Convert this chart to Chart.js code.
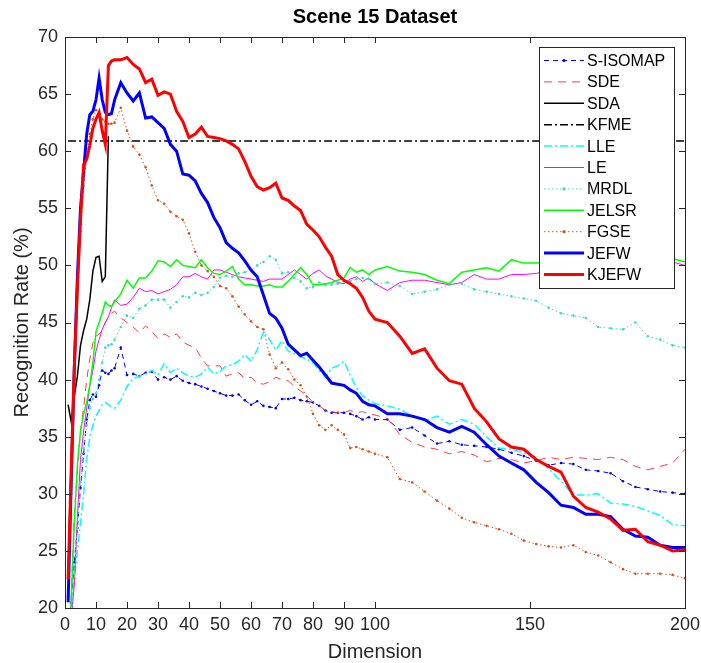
<!DOCTYPE html>
<html>
<head>
<meta charset="utf-8">
<script src="https://cdn.jsdelivr.net/npm/chart.js@4.4.0/dist/chart.umd.min.js"></script>
<style>
html,body{margin:0;padding:0;background:#fff;}
canvas{display:block;}
</style>
</head>
<body>
<canvas id="chart" width="701" height="663"></canvas>
<script>
// sampled dimensions (x values)
var dims = [1,2,3,4,5,6,7,8,9,10,11,12,13,14,15,16,
  18,20,22,24,26,28,30,32,34,36,38,40,42,44,46,48,50,52,54,56,58,60,62,64,66,68,70,72,74,76,78,80,82,84,86,88,90,92,94,96,98,100,
  104,108,112,116,120,124,128,132,136,140,144,148,152,156,160,164,168,172,176,180,184,188,192,196,200];
var sdaDims = [1,2,3,4,5,6,7,8,9,10,11,12,13,14];
var xTicks = [0,10,20,30,40,50,60,70,80,90,100,150,200];

var sIsomap = [17,20.5,24,27,30.5,33.5,36.5,38.2,38.7,38.5,39.5,40.8,40.6,40.5,40.8,41.0,
  42.8,40.4,40.5,40.3,40.6,40.7,40.0,40.2,40.0,40.3,39.9,39.7,39.6,39.4,39.2,39.0,38.8,38.6,38.6,38.7,38.2,37.8,38.1,37.7,37.6,37.5,38.3,38.3,38.4,38.2,38.1,38.0,37.7,37.3,37.1,37.1,37.1,37.0,36.8,36.5,36.7,36.5,
  36.5,35.6,35.8,35.1,34.4,34.6,34.3,34.2,34.1,33.9,33.6,33.3,32.9,32.5,32.7,32.6,32.1,32.0,31.8,31.1,30.6,30.4,30.2,30.1,30.0];
var sde = [17,21,28,32,35.5,37.5,40,41.8,43.2,43.8,44.0,44.3,45.0,45.5,45.8,46.0,
  45.4,45.0,44.6,44.1,44.7,44.2,43.6,44.0,43.7,44.0,43.3,43.0,42.8,41.9,41.2,41.2,41.2,40.3,40.5,40.6,40.1,40.2,39.7,39.6,39.8,40.2,40.0,39.9,39.4,39.0,38.6,38.0,37.7,37.3,37.2,37.1,37.1,37.3,37.1,37.2,37.0,36.9,
  36.6,35.2,34.5,34.1,33.9,33.5,33.7,33.4,32.8,33.1,33.0,32.7,32.9,33.2,33.0,33.2,33.1,33.0,33.2,33.0,32.4,32.1,32.4,32.7,33.9];
var sda = [37.8,36.3,38.5,40.3,43.0,44.3,45.3,47.0,49.5,50.7,50.8,48.6,49.0,61.3];
var kfme = 60.9;
var lle = [16,20.3,22.5,25,27.5,30,33,35,36,36.8,37.3,37.8,38.0,37.8,37.6,37.5,
  38.2,39.4,40.1,40.3,40.5,40.8,40.4,41.4,40.6,41.0,40.6,40.3,40.2,40.5,41.1,40.5,40.7,41.2,41.3,41.6,42.2,41.6,42.6,44.2,43.5,42.6,43.4,42.5,42.3,42.0,41.8,41.5,40.8,40.2,41.0,41.2,41.6,40.4,39.3,38.6,38.2,37.9,
  37.7,37.4,36.8,36.4,36.8,36.1,36.5,36.1,35.0,34.0,33.9,33.6,33.2,32.2,31.1,29.9,29.9,30.0,29.2,29.1,28.9,28.5,28.1,27.3,27.2];
var le = [16,19,22,28,33,35.5,37.5,39.5,40.8,42.5,43.5,44.4,45.0,45.5,46.3,47.0,
  46.5,46.6,47.2,48.0,47.7,47.8,47.5,47.7,47.9,48.3,49.0,49.0,49.3,49.0,48.8,49.6,49.6,49.4,49.2,49.0,48.9,48.8,48.7,48.6,48.8,48.8,48.8,49.2,49.6,49.2,48.8,49.3,49.6,49.1,48.8,48.5,48.4,48.8,49.0,48.6,48.9,48.4,
  47.8,48.5,48.7,48.7,48.5,48.3,48.5,49.2,48.8,48.8,49.2,49.2,49.3,49.5,49.6,49.7,49.8,49.9,50.0,49.8,50.0,50.1,50.0,50.3,50.0];
var mrdl = [16,19,23,27,31,34,36,37.5,38.3,38.8,40.0,41.5,42.8,43.0,43.1,43.5,
  44.6,45.6,45.4,46.2,46.5,47.0,47.0,47.0,46.3,46.8,47.3,47.2,47.6,47.4,47.6,48.1,48.9,49.1,49.0,49.3,49.4,49.6,50.0,50.3,50.8,50.5,49.3,49.4,48.9,48.6,48.0,48.1,48.5,48.3,48.3,48.4,48.6,48.6,48.8,48.9,48.8,48.4,
  48.5,48.2,47.5,47.7,47.9,48.3,48.4,47.9,47.7,47.5,47.3,47.1,46.9,46.3,45.8,45.6,45.4,44.6,44.5,44.4,45.0,43.8,43.5,43.0,42.8];
var jelsr = [16,20.5,27.5,32.5,35.5,37.0,38.0,39.5,41.5,44.2,45.0,45.8,46.8,46.5,46.4,46.8,
  47.5,48.7,48.0,48.9,48.9,49.5,50.4,50.3,49.9,50.5,50.0,49.9,49.8,50.5,49.8,49.3,49.2,49.5,49.9,48.8,48.3,48.3,48.2,48.2,48.3,48.1,48.1,48.6,49.2,49.8,49.2,48.3,48.3,48.4,48.5,48.7,48.9,49.8,49.4,49.6,49.2,49.6,
  49.9,49.5,49.4,49.2,48.7,48.4,49.4,49.6,49.8,49.5,50.5,50.2,50.2,50.3,50.4,50.5,50.4,50.6,50.5,50.6,50.4,50.5,50.6,50.6,50.3];
var fgse = [21,30,40,48,53,57,59.5,61.5,62.8,63.6,63.2,62.8,62.6,62.4,62.4,62.5,
  63.8,61.8,60.4,59.7,58.6,57.0,55.7,55.4,54.7,54.3,54.0,52.8,51.2,50.0,49.5,49.0,48.2,48.0,47.3,46.4,45.7,45.1,44.6,44.4,42.2,41.0,41.5,40.9,40.0,39.5,38.5,37.0,36.0,35.6,36.0,35.6,35.2,34.0,34.1,33.9,33.7,33.5,
  33.2,31.3,31.0,30.2,29.4,28.7,27.9,27.5,27.2,26.9,26.5,25.9,25.6,25.4,25.3,25.5,24.9,24.6,24.0,23.4,23.0,23.0,23.0,22.9,22.6];
var jefw = [20.5,31,41,49,55,58.2,61.5,63.2,63.5,64.5,66.4,64.5,63.4,63.2,63.3,64.5,
  66.0,65.1,64.4,65.1,62.9,63.0,62.5,62.0,60.6,60.0,58.0,57.9,57.4,56.3,55.5,54.2,53.3,52.0,51.5,51.1,50.4,49.6,49.0,47.4,45.8,45.4,44.5,43.1,42.6,42.1,42.3,41.7,41.1,40.4,39.7,39.6,39.5,39.1,38.8,38.1,37.8,37.7,
  37.0,37.0,36.8,36.5,35.8,35.4,35.9,35.4,34.3,33.3,32.7,32.1,31.0,30.1,29.0,28.8,28.2,28.2,28.0,26.9,26.3,26.2,25.5,25.3,25.3];
var kjefw = [22.5,32,41,48,54,58.8,59.3,60.5,62.0,62.8,63.4,61.8,60.6,67.5,67.9,68.0,
  68.0,68.2,67.6,67.2,66.0,66.3,64.9,65.2,65.0,63.5,62.6,61.2,61.5,62.1,61.3,61.2,61.1,60.9,60.6,60.2,59.1,57.8,56.9,56.6,56.8,57.2,55.9,55.7,55.2,54.8,53.6,53.1,52.5,51.6,50.8,49.2,48.7,48.4,48.0,47.2,46.0,45.3,
  45.0,43.8,42.3,42.7,41.0,39.9,39.6,37.5,36.3,34.8,34.1,33.9,33.0,32.4,31.9,29.8,28.8,28.4,27.8,26.8,26.9,25.8,25.5,25.0,25.1];

function pts(xs, ys){
  return xs.map(function(x,i){ return {x:x, y:ys[i]}; });
}

var series = [
  {label:'S-ISOMAP', data:pts(dims,sIsomap), borderColor:'#0000ff', borderWidth:1, borderDash:[5,4], pointRadius:1.3},
  {label:'SDE', data:pts(dims,sde), borderColor:'#ff3b3b', borderWidth:1, borderDash:[8,6], pointRadius:0},
  {label:'SDA', data:pts(sdaDims,sda), borderColor:'#000000', borderWidth:1.5, pointRadius:0},
  {label:'KFME', data:dims.map(function(x){return {x:x,y:kfme};}), borderColor:'#000000', borderWidth:1.5, borderDash:[8,3,2,3], pointRadius:0},
  {label:'LLE', data:pts(dims,lle), borderColor:'#00ffff', borderWidth:1.5, borderDash:[8,3,2,3], pointRadius:0},
  {label:'LE', data:pts(dims,le), borderColor:'#ff00ff', borderWidth:1, pointRadius:0},
  {label:'MRDL', data:pts(dims,mrdl), borderColor:'#3fdcbc', borderWidth:1, borderDash:[1.5,2.5], pointRadius:1.3},
  {label:'JELSR', data:pts(dims,jelsr), borderColor:'#00ff00', borderWidth:1.5, pointRadius:0},
  {label:'FGSE', data:pts(dims,fgse), borderColor:'#d95319', borderWidth:1, borderDash:[1.5,2.5], pointRadius:1.3},
  {label:'JEFW', data:pts(dims,jefw), borderColor:'#0000ff', borderWidth:3, pointRadius:0},
  {label:'KJEFW', data:pts(dims,kjefw), borderColor:'#ff0000', borderWidth:3, pointRadius:0}
];
series.forEach(function(s,i){
  s.pointBackgroundColor = s.borderColor;
  s.pointBorderWidth = 0;
  s.tension = 0;
  s.fill = false;
  s.order = series.length - i;
});

var axisColor = '#262626';
var fontFam = '"Liberation Sans", Arial, Helvetica, sans-serif';

var framePlugin = {
  id: 'frame',
  afterDatasetsDraw: function(chart){
    var ctx = chart.ctx, a = chart.chartArea;
    var xs = chart.scales.x, ys = chart.scales.y;
    ctx.save();
    ctx.strokeStyle = axisColor;
    ctx.lineWidth = 1;
    ctx.strokeRect(a.left+0.5, a.top+0.5, a.right-a.left, a.bottom-a.top);
    var tl = 6;
    ctx.beginPath();
    xTicks.forEach(function(v){
      var px = Math.round(xs.getPixelForValue(v))+0.5;
      ctx.moveTo(px,a.bottom); ctx.lineTo(px,a.bottom-tl);
      ctx.moveTo(px,a.top); ctx.lineTo(px,a.top+tl);
    });
    for (var v=20; v<=70; v+=5){
      var py = Math.round(ys.getPixelForValue(v))+0.5;
      ctx.moveTo(a.left,py); ctx.lineTo(a.left+tl,py);
      ctx.moveTo(a.right,py); ctx.lineTo(a.right-tl,py);
    }
    ctx.stroke();

    // legend box
    var lx = 539, ly = 47, lw = 135, lh = 241, step = 21.4;
    ctx.fillStyle = '#ffffff';
    ctx.fillRect(lx, ly, lw, lh);
    ctx.strokeRect(lx+0.5, ly+0.5, lw, lh);
    ctx.font = '16px ' + fontFam;
    ctx.textBaseline = 'middle';
    ctx.textAlign = 'left';
    series.forEach(function(s,i){
      var cy = ly + 13.5 + i*step;
      ctx.save();
      ctx.strokeStyle = s.borderColor;
      ctx.lineWidth = s.borderWidth;
      ctx.setLineDash(s.borderDash || []);
      ctx.beginPath();
      ctx.moveTo(544, cy); ctx.lineTo(584, cy);
      ctx.stroke();
      if (s.pointRadius > 0){
        ctx.fillStyle = s.borderColor;
        ctx.beginPath(); ctx.arc(564, cy, 1.6, 0, Math.PI*2); ctx.fill();
      }
      ctx.restore();
      ctx.fillStyle = '#000000';
      ctx.fillText(s.label, 587, cy+1);
    });

    // titles
    ctx.fillStyle = '#000000';
    ctx.textAlign = 'center';
    ctx.font = 'bold 20px ' + fontFam;
    ctx.fillText('Scene 15 Dataset', (a.left+a.right)/2, 17);
    ctx.fillStyle = axisColor;
    ctx.font = '20px ' + fontFam;
    ctx.fillText('Dimension', (a.left+a.right)/2, 652);
    ctx.translate(22, (a.top+a.bottom)/2);
    ctx.rotate(-Math.PI/2);
    ctx.fillText('Recognition Rate (%)', 0, 0);
    ctx.restore();
  }
};

var chart = new Chart(document.getElementById('chart'), {
  type: 'line',
  data: { datasets: series },
  options: {
    responsive: false,
    animation: false,
    devicePixelRatio: 1,
    layout: { padding: { top: 37, right: 16, left: 0, bottom: 0 } },
    plugins: { legend: {display:false}, tooltip: {enabled:false}, title: {display:false} },
    scales: {
      x: {
        type: 'linear', min: 0, max: 200,
        grid: { display:false, drawTicks:false },
        border: { display:false },
        afterBuildTicks: function(scale){ scale.ticks = xTicks.map(function(v){return {value:v};}); },
        afterFit: function(scale){
          scale.height = 55;
          scale.paddingLeft = 0; scale.paddingRight = 0;
        },
        ticks: { color: axisColor, font: {family: fontFam, size: 18}, padding: 6, maxRotation: 0, autoSkip: false }
      },
      y: {
        min: 20, max: 70,
        grid: { display:false, drawTicks:false },
        border: { display:false },
        afterFit: function(scale){
          scale.width = 65;
          scale.paddingTop = 0; scale.paddingBottom = 0;
        },
        ticks: { stepSize: 5, color: axisColor, font: {family: fontFam, size: 18}, padding: 7 }
      }
    }
  },
  plugins: [framePlugin]
});
</script>
</body>
</html>
